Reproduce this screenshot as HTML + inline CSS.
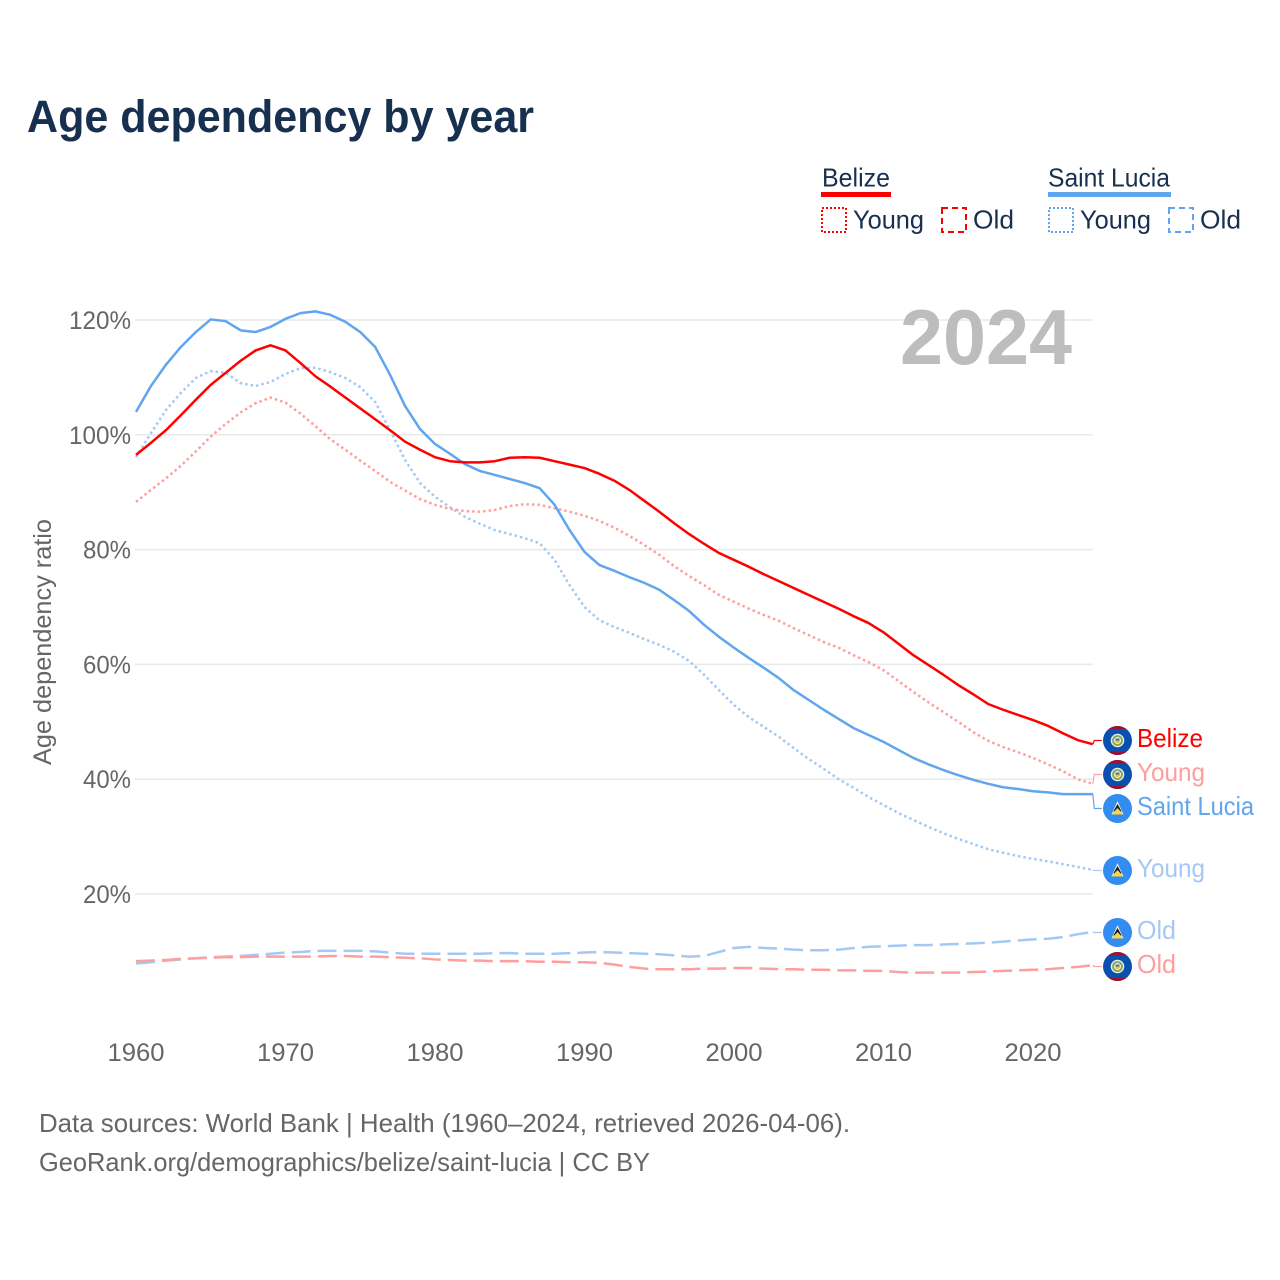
<!DOCTYPE html>
<html lang="en">
<head>
<meta charset="utf-8">
<title>Age dependency by year</title>
<style>
html,body{margin:0;padding:0;background:#fff;width:1280px;height:1280px;overflow:hidden}
svg{display:block}
text{font-family:"Liberation Sans",sans-serif}
</style>
</head>
<body>
<svg id="chart" xmlns="http://www.w3.org/2000/svg" width="1280" height="1280" viewBox="0 0 1280 1280">
<defs>
<clipPath id="flag-clip"><circle cx="0" cy="0" r="14.5"/></clipPath>
<g id="flag-belize">
<g clip-path="url(#flag-clip)">
<rect x="-15" y="-15" width="30" height="30" fill="#0a50b0"/>
<rect x="-15" y="-15" width="30" height="3.6" fill="#9b1233"/>
<rect x="-15" y="11.4" width="30" height="3.6" fill="#9b1233"/>
</g>
<circle r="6.8" fill="#e8eee4"/>
<circle r="5.4" fill="#7fa85a"/>
<circle r="3.5" fill="#f4f4ee"/>
<path d="M-2.6 0A2.6 2.6 0 0 0 2.6 0Z" fill="#e8bf3a"/>
<rect x="-2" y="-2" width="4" height="2" fill="#3a6fb0"/>
</g>
<g id="flag-lucia">
<circle r="14.5" fill="#338cf0"/>
<path d="M0 -7.5L6 6H-6Z" fill="#f2f2f2"/>
<path d="M0 -4.5L4.2 3H-4.2Z" fill="#1a1a22"/>
<path d="M0 -0.5L6 6H-6Z" fill="#fbd44a"/>
</g>
</defs>

<text x="27" y="132" font-size="45" font-weight="700" fill="#17304f" textLength="507" lengthAdjust="spacingAndGlyphs">Age dependency by year</text>

<g>
<text x="822" y="186.5" font-size="26" fill="#17304f" textLength="68" lengthAdjust="spacingAndGlyphs">Belize</text>
<rect x="821" y="192" width="70" height="5" fill="#ff0000"/>
<rect x="822" y="208" width="24" height="24" fill="none" stroke="#ff0000" stroke-width="2" stroke-dasharray="2 2"/>
<text x="853" y="228.5" font-size="26" fill="#17304f" textLength="71" lengthAdjust="spacingAndGlyphs">Young</text>
<rect x="942" y="208" width="24" height="24" fill="none" stroke="#ff0000" stroke-width="2" stroke-dasharray="6 4"/>
<text x="973" y="228.5" font-size="26" fill="#17304f" textLength="41" lengthAdjust="spacingAndGlyphs">Old</text>
<text x="1048" y="186.5" font-size="26" fill="#17304f" textLength="122" lengthAdjust="spacingAndGlyphs">Saint Lucia</text>
<rect x="1048" y="192" width="123" height="5" fill="#60a5ee"/>
<rect x="1049" y="208" width="24" height="24" fill="none" stroke="#60a5ee" stroke-width="2" stroke-dasharray="2 2"/>
<text x="1080" y="228.5" font-size="26" fill="#17304f" textLength="71" lengthAdjust="spacingAndGlyphs">Young</text>
<rect x="1169" y="208" width="24" height="24" fill="none" stroke="#60a5ee" stroke-width="2" stroke-dasharray="6 4"/>
<text x="1200" y="228.5" font-size="26" fill="#17304f" textLength="41" lengthAdjust="spacingAndGlyphs">Old</text>
</g>

<g id="grid"></g>
<g id="y-axis"></g>
<g id="x-axis"></g>

<text x="986" y="364" font-size="78" font-weight="700" fill="#bdbdbd" text-anchor="middle" textLength="172" lengthAdjust="spacingAndGlyphs">2024</text>

<text transform="translate(51,765) rotate(-90)" font-size="25" fill="#666666" textLength="246" lengthAdjust="spacingAndGlyphs">Age dependency ratio</text>

<g id="series"></g>
<g id="connectors"></g>

<g>
<use href="#flag-belize" x="1117.5" y="740.5"/>
<use href="#flag-belize" x="1117.5" y="774.5"/>
<use href="#flag-lucia" x="1117.5" y="808.5"/>
<use href="#flag-lucia" x="1117.5" y="870.5"/>
<use href="#flag-lucia" x="1117.5" y="932.5"/>
<use href="#flag-belize" x="1117.5" y="966.5"/>
<text x="1137" y="747" font-size="26" fill="#ff0000" textLength="66" lengthAdjust="spacingAndGlyphs">Belize</text>
<text x="1137" y="781" font-size="26" fill="#ff9e9e" textLength="68" lengthAdjust="spacingAndGlyphs">Young</text>
<text x="1137" y="815" font-size="26" fill="#60a5ee" textLength="117" lengthAdjust="spacingAndGlyphs">Saint Lucia</text>
<text x="1137" y="877" font-size="26" fill="#a3c9f3" textLength="68" lengthAdjust="spacingAndGlyphs">Young</text>
<text x="1137" y="939" font-size="26" fill="#a3c9f3" textLength="39" lengthAdjust="spacingAndGlyphs">Old</text>
<text x="1137" y="973" font-size="26" fill="#ff9e9e" textLength="39" lengthAdjust="spacingAndGlyphs">Old</text>
</g>

<text x="39" y="1132" font-size="26" fill="#666666" textLength="811" lengthAdjust="spacingAndGlyphs">Data sources: World Bank | Health (1960–2024, retrieved 2026-04-06).</text>
<text x="39" y="1171" font-size="26" fill="#666666" textLength="611" lengthAdjust="spacingAndGlyphs">GeoRank.org/demographics/belize/saint-lucia | CC BY</text>
</svg>

<script>
const startYear = 1960;
const yTickValues = [20, 40, 60, 80, 100, 120];
const yTickLabels = ["20%", "40%", "60%", "80%", "100%", "120%"];
const xTickValues = [1960, 1970, 1980, 1990, 2000, 2010, 2020];
const xTickLabels = ["1960", "1970", "1980", "1990", "2000", "2010", "2020"];

const belizeTotal = [
96.5,98.6,100.8,103.4,106.1,108.7,110.8,112.9,114.7,115.6,
114.7,112.5,110.2,108.4,106.5,104.6,102.7,100.8,98.8,97.4,
96.1,95.4,95.2,95.2,95.4,96.0,96.1,96.0,95.4,94.8,
94.2,93.2,92.0,90.4,88.5,86.6,84.6,82.7,81.0,79.4,
78.2,77.0,75.7,74.5,73.3,72.1,70.9,69.7,68.4,67.2,
65.6,63.6,61.6,59.9,58.2,56.4,54.8,53.1,52.1,51.2,
50.3,49.3,48.0,46.8,46.1];
const belizeYoung = [
88.3,90.4,92.4,94.6,97.1,99.7,101.9,103.9,105.5,106.5,
105.6,103.7,101.5,99.2,97.4,95.5,93.7,91.8,90.3,88.8,
87.8,87.1,86.7,86.6,86.9,87.6,87.9,87.8,87.2,86.6,
85.9,85.0,83.8,82.4,80.8,79.1,77.1,75.4,73.8,72.1,
70.9,69.7,68.6,67.6,66.3,65.1,63.9,62.9,61.6,60.4,
59.0,57.1,55.2,53.4,51.7,50.0,48.2,46.7,45.6,44.7,
43.7,42.6,41.4,40.0,39.2];
const belizeOld = [
8.3,8.4,8.5,8.7,8.8,8.9,9.0,9.0,9.1,9.1,
9.1,9.1,9.1,9.2,9.2,9.1,9.1,9.0,8.9,8.8,
8.6,8.5,8.4,8.4,8.3,8.3,8.3,8.2,8.2,8.1,
8.1,8.0,7.7,7.3,7.0,6.9,6.9,6.9,7.0,7.0,
7.1,7.1,7.0,6.9,6.9,6.8,6.8,6.7,6.7,6.6,
6.6,6.4,6.3,6.3,6.3,6.3,6.4,6.5,6.6,6.7,
6.8,6.9,7.1,7.3,7.6];
const luciaTotal = [
104.0,108.5,112.2,115.3,117.9,120.1,119.8,118.2,117.9,118.8,
120.2,121.2,121.5,120.9,119.7,117.9,115.3,110.4,105.0,101.0,
98.4,96.7,94.9,93.7,93.0,92.3,91.6,90.7,87.8,83.4,
79.6,77.3,76.3,75.2,74.2,73.0,71.2,69.3,66.9,64.8,
62.9,61.1,59.4,57.6,55.5,53.8,52.1,50.5,48.9,47.7,
46.5,45.1,43.7,42.6,41.6,40.7,39.9,39.2,38.6,38.3,
37.9,37.7,37.4,37.4,37.4];
const luciaYoung = [
96.1,100.3,104.3,107.3,109.9,111.1,110.8,109.0,108.5,109.2,
110.6,111.6,111.7,110.9,109.9,108.3,105.7,100.8,95.6,91.6,
89.2,87.4,85.7,84.5,83.4,82.7,82.0,81.1,78.2,73.8,
70.0,67.7,66.5,65.5,64.4,63.4,62.2,60.6,58.2,55.5,
52.9,50.8,49.1,47.4,45.4,43.5,41.8,40.0,38.5,36.9,
35.5,34.1,32.9,31.7,30.6,29.6,28.7,27.8,27.2,26.6,
26.1,25.7,25.2,24.7,24.2];
const luciaOld = [
7.9,8.1,8.4,8.6,8.8,9.0,9.1,9.2,9.4,9.6,
9.8,9.9,10.1,10.1,10.1,10.1,10.0,9.8,9.6,9.6,
9.6,9.6,9.6,9.6,9.7,9.7,9.6,9.6,9.6,9.7,
9.8,9.9,9.8,9.7,9.6,9.5,9.3,9.1,9.2,9.9,
10.6,10.8,10.6,10.5,10.3,10.2,10.2,10.3,10.6,10.8,
10.9,11.0,11.1,11.1,11.2,11.3,11.4,11.5,11.7,11.9,
12.1,12.2,12.5,13.0,13.4];

const NS = "http://www.w3.org/2000/svg";
function xScale(year) { return 136 + (year - 1960) * 14.95; }
function yScale(v) { return 320 + (120 - v) * 5.74; }

const gridGroup = document.getElementById("grid");
const yAxisGroup = document.getElementById("y-axis");
const xAxisGroup = document.getElementById("x-axis");
const seriesGroup = document.getElementById("series");
const connectorGroup = document.getElementById("connectors");

yTickValues.forEach(function (v, i) {
  const line = document.createElementNS(NS, "line");
  line.setAttribute("x1", 135);
  line.setAttribute("x2", xScale(2024));
  line.setAttribute("y1", yScale(v));
  line.setAttribute("y2", yScale(v));
  line.setAttribute("stroke", "#e9e9e9");
  line.setAttribute("stroke-width", "1.5");
  
  
  gridGroup.appendChild(line);

  const label = document.createElementNS(NS, "text");
  label.setAttribute("x", 131);
  label.setAttribute("y", yScale(v) + 9);
  label.setAttribute("font-size", "25");
  label.setAttribute("fill", "#666666");
  label.setAttribute("text-anchor", "end");
  label.setAttribute("textLength", yTickLabels[i].length === 4 ? 62 : 48);
  label.setAttribute("lengthAdjust", "spacingAndGlyphs");
  label.textContent = yTickLabels[i];
  
  
  yAxisGroup.appendChild(label);
});

xTickValues.forEach(function (year, i) {
  const label = document.createElementNS(NS, "text");
  label.setAttribute("x", xScale(year));
  label.setAttribute("y", 1061);
  label.setAttribute("font-size", "25");
  label.setAttribute("fill", "#666666");
  label.setAttribute("text-anchor", "middle");
  label.setAttribute("textLength", 57);
  label.setAttribute("lengthAdjust", "spacingAndGlyphs");
  label.textContent = xTickLabels[i];
  
  
  xAxisGroup.appendChild(label);
});

function pathFrom(values) {
  return values.map(function (v, i) {
    return (i === 0 ? "M" : "L") + xScale(startYear + i).toFixed(2) + " " + yScale(v).toFixed(2);
  }).join("");
}

function drawSeries(values, color, dash, name) {
  const path = document.createElementNS(NS, "path");
  path.setAttribute("d", pathFrom(values));
  path.setAttribute("fill", "none");
  path.setAttribute("stroke", color);
  path.setAttribute("stroke-width", "2.5");
  path.setAttribute("stroke-linejoin", "round");
  if (dash) path.setAttribute("stroke-dasharray", dash);
  
  
  seriesGroup.appendChild(path);
}

drawSeries(luciaOld, "#a3c9f3", "19 7", "saint-lucia-old-line");
drawSeries(belizeOld, "#ff9e9e", "19 7", "belize-old-line");
drawSeries(luciaYoung, "#a3c9f3", "2.5 3", "saint-lucia-young-line");
drawSeries(belizeYoung, "#ff9e9e", "2.5 3", "belize-young-line");
drawSeries(luciaTotal, "#60a5ee", "", "saint-lucia-total-line");
drawSeries(belizeTotal, "#ff0000", "", "belize-total-line");

function drawConnector(values, labelY, color) {
  const endY = yScale(values[values.length - 1]);
  const endX = xScale(2024);
  const poly = document.createElementNS(NS, "polyline");
  poly.setAttribute("points", endX + "," + endY + " " + (endX + 1.5) + "," + labelY + " " + (endX + 9) + "," + labelY);
  poly.setAttribute("fill", "none");
  poly.setAttribute("stroke", color);
  poly.setAttribute("stroke-width", "1.2");
  
  
  connectorGroup.appendChild(poly);
}

drawConnector(belizeTotal, 740.5, "#ff0000");
drawConnector(belizeYoung, 774.5, "#ff9e9e");
drawConnector(luciaTotal, 808.5, "#60a5ee");
drawConnector(luciaYoung, 870.5, "#a3c9f3");
drawConnector(luciaOld, 932.5, "#a3c9f3");
drawConnector(belizeOld, 966.5, "#ff9e9e");
</script>
</body>
</html>
